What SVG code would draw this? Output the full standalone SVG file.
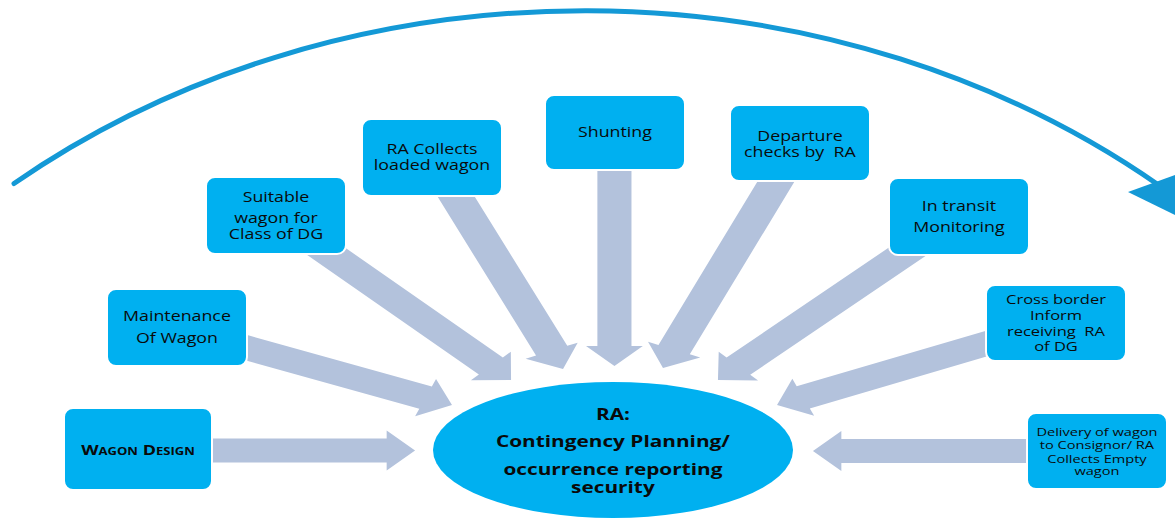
<svg xmlns="http://www.w3.org/2000/svg" width="1175" height="519" viewBox="0 0 1175 519">
  <style>
    .box { fill: #00b0f0; stroke: #ffffff; stroke-width: 2; }
    .arrow { fill: #b3c2dc; }
    text { font-family: "Open Sans", "Liberation Sans", sans-serif; fill: #0a0a0a; text-anchor: middle;
           transform-box: fill-box; transform-origin: center; transform: scaleX(1.27); white-space: pre; }
    .t { font-size: 14px; }
    .ts { font-size: 13px; }
    .tx { font-size: 11.5px; }
    .caps { font-size: 15px; font-weight: bold; font-variant: small-caps; transform: scaleX(1.2); }
    .hub { font-size: 16px; font-weight: bold; transform: scaleX(1.3); }
  </style>

  <!-- sweeping process arc across the top -->
  <g id="process-arc">
    <path d="M 14 183.5 A 906 772 0 0 1 1160 186" fill="none" stroke="#1499d6" stroke-width="5" stroke-linecap="round"/>
    <polygon points="1128,192 1197,167 1212,233" fill="#1499d6"/>
  </g>

  <!-- block arrows feeding the central RA node (drawn in a 1.42x horizontally stretched frame) -->
  <g id="connectors" transform="scale(1.42 1)">
    <g class="arrow">
      <polygon transform="translate(292.3 450.5) rotate(0)" points="-158,-12 -20,-12 -20,-20 0,0 -20,20 -20,12 -158,12"/>
      <polygon transform="translate(318.3 405) rotate(21.6)" points="-167,-12 -20,-12 -20,-20 0,0 -20,20 -20,12 -167,12"/>
      <polygon transform="translate(359.9 380) rotate(44.66)" points="-194,-12 -20,-12 -20,-20 0,0 -20,20 -20,12 -194,12"/>
      <polygon transform="translate(396.5 369) rotate(66.4)" points="-201,-12 -20,-12 -20,-20 0,0 -20,20 -20,12 -201,12"/>
      <polygon transform="translate(432.7 366) rotate(90)" points="-209,-12 -20,-12 -20,-20 0,0 -20,20 -20,12 -209,12"/>
      <polygon transform="translate(466.9 368) rotate(113.1)" points="-215,-12 -20,-12 -20,-20 0,0 -20,20 -20,12 -215,12"/>
      <polygon transform="translate(505.6 380) rotate(136.1)" points="-197,-12 -20,-12 -20,-20 0,0 -20,20 -20,12 -197,12"/>
      <polygon transform="translate(547.2 405) rotate(157.4)" points="-171,-12 -20,-12 -20,-20 0,0 -20,20 -20,12 -171,12"/>
      <polygon transform="translate(572.5 451) rotate(180)" points="-164,-12 -20,-12 -20,-20 0,0 -20,20 -20,12 -164,12"/>
    </g>
  </g>

  <g id="wagon-design">
    <rect class="box" x="64" y="408" width="148" height="82" rx="9"/>
    <text class="caps" x="138" y="455">Wagon Design</text>
  </g>

  <g id="maintenance">
    <rect class="box" x="107" y="289" width="140" height="77" rx="9"/>
    <text class="t" x="177" y="321">Maintenance</text>
    <text class="t" x="177" y="343">Of Wagon</text>
  </g>

  <g id="suitable-wagon">
    <rect class="box" x="206" y="177" width="140" height="77" rx="9"/>
    <text class="t" x="276" y="202">Suitable</text>
    <text class="t" x="276" y="223">wagon for</text>
    <text class="t" x="276" y="239">Class of DG</text>
  </g>

  <g id="ra-collects">
    <rect class="box" x="362" y="119" width="140" height="77" rx="9"/>
    <text class="t" x="432" y="154">RA Collects</text>
    <text class="t" x="432" y="170">loaded wagon</text>
  </g>

  <g id="shunting">
    <rect class="box" x="545" y="95" width="140" height="75" rx="9"/>
    <text class="t" x="615" y="137">Shunting</text>
  </g>

  <g id="departure-checks">
    <rect class="box" x="730" y="105" width="140" height="76" rx="9"/>
    <text class="t" x="800" y="141">Departure</text>
    <text class="t" x="800" y="157">checks by  RA</text>
  </g>

  <g id="in-transit">
    <rect class="box" x="889" y="178" width="140" height="77" rx="9"/>
    <text class="t" x="959" y="211">In transit</text>
    <text class="t" x="959" y="232">Monitoring</text>
  </g>

  <g id="cross-border">
    <rect class="box" x="986" y="285" width="140" height="76" rx="9"/>
    <text class="ts" x="1056" y="304">Cross border</text>
    <text class="ts" x="1056" y="320">Inform</text>
    <text class="ts" x="1056" y="336">receiving  RA</text>
    <text class="ts" x="1056" y="351">of DG</text>
  </g>

  <g id="delivery">
    <rect class="box" x="1027" y="413" width="140" height="76" rx="9"/>
    <text class="tx" x="1097" y="436">Delivery of wagon</text>
    <text class="tx" x="1097" y="449">to Consignor/ RA</text>
    <text class="tx" x="1097" y="463">Collects Empty</text>
    <text class="tx" x="1097" y="475">wagon</text>
  </g>

  <g id="ra-hub">
    <ellipse cx="613" cy="450" rx="180" ry="68" fill="#00b0f0"/>
    <text class="hub" x="613" y="420">RA:</text>
    <text class="hub" x="613" y="447">Contingency Planning/</text>
    <text class="hub" x="613" y="475">occurrence reporting</text>
    <text class="hub" x="613" y="493">security</text>
  </g>
</svg>
